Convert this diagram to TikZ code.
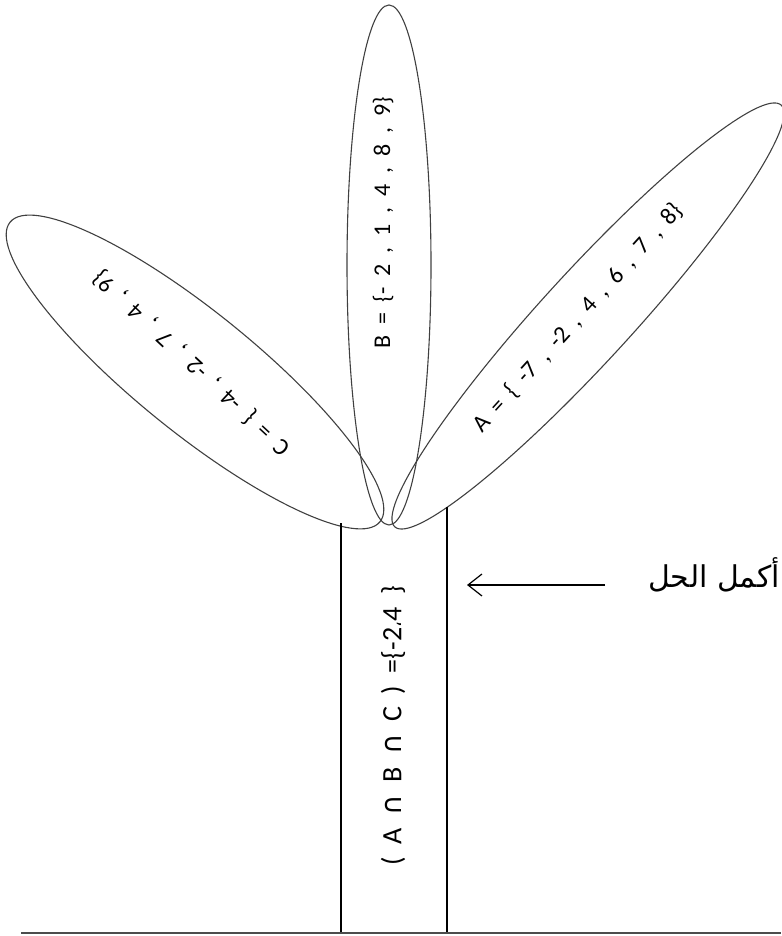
\documentclass[tikz,border=0pt]{standalone}
\usepackage{fontspec}
\usetikzlibrary{shapes.geometric,arrows.meta}
\setmainfont{Carlito}
\newfontfamily\leaffont[WordSpace=2.0]{Carlito}
\newfontfamily\symfont{DejaVu Sans}
\newfontfamily\arabicfont[Script=Arabic]{DejaVu Sans}
\newcommand{\capsym}{{\symfont\fontsize{28}{32}\selectfont ∩}}
\TeXXeTstate=1
\begin{document}
\begin{tikzpicture}[x=1pt,y=1pt,
  leaf/.style={ellipse,draw=black!75,line width=1.1pt,inner sep=0pt},
  leaftext/.style={font=\leaffont\fontsize{24}{28}\selectfont,inner sep=1pt},
  stemtext/.style={font=\leaffont\fontsize{28}{32}\selectfont,inner sep=1pt},
  stemline/.style={draw=black,line width=1.1pt},
  ground/.style={draw=black!70,line width=2pt}]
\useasboundingbox (0,0) rectangle (781,936);
% leaves
\node[leaf,minimum width=572pt,minimum height=90pt,rotate=47.5] (A) at (588,620) {};
\node[leaf,minimum width=520pt,minimum height=84pt,rotate=90] (B) at (389,671) {};
\node[leaf,minimum width=476pt,minimum height=120pt,rotate=141] (C) at (195,564) {};
% leaf texts
\node[leaftext,rotate=47.7] (tA) at (578,618) {A = \{ -7 , -2 , 4 , 6 , 7 , 8\}};
\node[leaftext,rotate=90] (tB) at (383,713) {B = \{- 2 , 1 , 4 , 8 , 9\}};
\node[leaftext,rotate=137] (tC) at (192,573) {C = \{ -4 , -2 , 7 , 4 , 9\}};
% stem
\coordinate (sLb) at (341,3);
\coordinate (sLt) at (341,413);
\coordinate (sRb) at (447,3);
\coordinate (sRt) at (447,429);
\draw[stemline] (sLb) -- (sLt);
\draw[stemline] (sRb) -- (sRt);
\node[stemtext,rotate=90] (tS) at (393,210)
  {( A \capsym{} B \capsym{} C ) =\{-2{\symfont\fontsize{18}{22}\selectfont ،}4 \}};
% ground
\coordinate (g1) at (21,3);
\coordinate (g2) at (781,3);
\draw[ground] (g1) -- (g2);
% label and arrow
\node[font=\arabicfont\fontsize{30}{34}\selectfont,inner sep=0pt] (ar) at (714,361) {\beginR أكمل الحل\endR};
\coordinate (aT) at (605,351);
\coordinate (aH) at (467,351);
\draw[line width=1.2pt,-{Straight Barb[length=14pt,width=22pt,line width=1.2pt]}] (aT) -- (aH);
\end{tikzpicture}
\end{document}
